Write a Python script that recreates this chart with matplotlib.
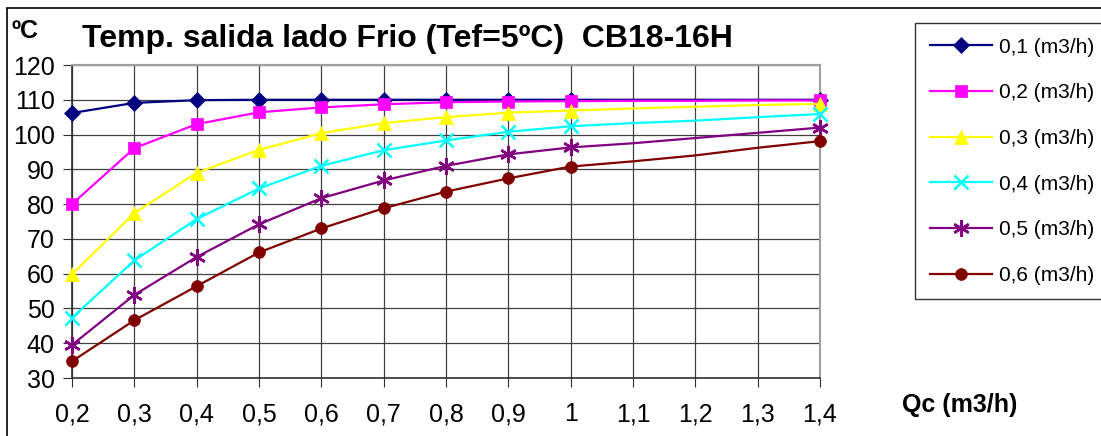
import matplotlib.pyplot as plt
from matplotlib.patches import Rectangle

plt.rcParams["font.family"] = ["Liberation Sans", "DejaVu Sans"]

# caudal lado caliente Qc (m3/h)
qc = [0.2, 0.3, 0.4, 0.5, 0.6, 0.7, 0.8, 0.9, 1.0, 1.1, 1.2, 1.3, 1.4]
tick_labels = ["0,2", "0,3", "0,4", "0,5", "0,6", "0,7", "0,8", "0,9", "1",
               "1,1", "1,2", "1,3", "1,4"]

t_01 = [106.2, 109.1, 109.9, 110.0, 110.0, 110.0, 110.0, 110.0, 110.0, 110.0, 110.0, 110.0, 110.0]
t_02 = [80.0, 96.1, 103.0, 106.4, 107.8, 108.7, 109.3, 109.5, 109.6, 109.7, 109.7, 109.8, 109.8]
t_03 = [59.8, 77.4, 89.0, 95.6, 100.4, 103.3, 105.0, 106.3, 106.9, 107.5, 108.0, 108.5, 108.8]
t_04 = [47.3, 63.8, 75.7, 84.5, 91.0, 95.5, 98.3, 100.8, 102.4, 103.3, 104.0, 105.0, 105.9]
t_05 = [39.5, 53.9, 64.8, 74.2, 81.7, 86.8, 91.0, 94.3, 96.3, 97.5, 99.0, 100.5, 102.0]
t_06 = [34.8, 46.6, 56.4, 66.1, 73.0, 78.8, 83.6, 87.4, 90.8, 92.3, 94.0, 96.2, 98.1]

series = [
    ("0,1 (m3/h)", t_01, "#000080", "D", 8),
    ("0,2 (m3/h)", t_02, "#FF00FF", "s", 9),
    ("0,3 (m3/h)", t_03, "#FFFF00", "^", 10),
    ("0,4 (m3/h)", t_04, "#00FFFF", "x", 10),
    ("0,5 (m3/h)", t_05, "#800080", (6, 2, 0), 12),
    ("0,6 (m3/h)", t_06, "#800000", "o", 8.5),
]

# marcadores solo en 0,2 ... 1 y 1,4
marks = [0, 1, 2, 3, 4, 5, 6, 7, 8, 12]

fig = plt.figure(figsize=(11.01, 4.36), dpi=100)
ax = fig.add_axes([72 / 1101, 1 - 378 / 436, (820 - 72) / 1101, (378 - 65) / 436])

for label, vals, color, marker, ms in series:
    ax.plot(qc, vals, color=color, lw=1.6, marker=marker, markersize=ms,
            markevery=marks, markeredgewidth=1.8 if marker in ("x", (6, 2, 0)) else 0.5,
            markeredgecolor=color, markerfacecolor=color, label=label,
            clip_on=False, zorder=3)

ax.set_xlim(0.2, 1.4)
ax.set_ylim(30, 120)
ax.set_xticks(qc)
ax.set_xticklabels(tick_labels)
ax.set_yticks(range(30, 121, 10))
ax.grid(True, color="#404040", lw=0.9)
ax.set_axisbelow(True)
ax.tick_params(axis="x", direction="out", length=6.5, pad=11, labelsize=18, color="#303030")
ax.tick_params(axis="y", direction="out", length=6.5, pad=6, labelsize=18, color="#303030")

for side in ("top", "right"):
    ax.spines[side].set_color("#a0a0a0")
    ax.spines[side].set_linewidth(1.5)
for side in ("left", "bottom"):
    ax.spines[side].set_color("#303030")
    ax.spines[side].set_linewidth(1.2)

fig.text(82 / 1101, 1 - 47 / 436, "Temp. salida lado Frio (Tef=5ºC)  CB18-16H",
         fontsize=23, fontweight="bold", va="baseline", ha="left")
fig.text(12 / 1101, 1 - 38 / 436, "ºC", fontsize=18, fontweight="bold",
         va="baseline", ha="left")
fig.text(902 / 1101, 1 - 412 / 436, "Qc (m3/h)", fontsize=18, fontweight="bold",
         va="baseline", ha="left")

leg = fig.legend(loc="upper left", bbox_to_anchor=(915 / 1101, 1 - 23 / 436),
                 frameon=True, fancybox=False, edgecolor="black", fontsize=15,
                 labelspacing=1.28, handlelength=3.0, handletextpad=0.33,
                 borderpad=0.7, borderaxespad=0)
leg.get_frame().set_linewidth(1.0)

# marco exterior del grafico
fig.patches.append(Rectangle((7 / 1101, -0.05), 1.1, 1 - 8 / 436 + 0.05,
                             transform=fig.transFigure, fill=False,
                             edgecolor="black", lw=1.2))

fig.savefig("out.png", dpi=100)
